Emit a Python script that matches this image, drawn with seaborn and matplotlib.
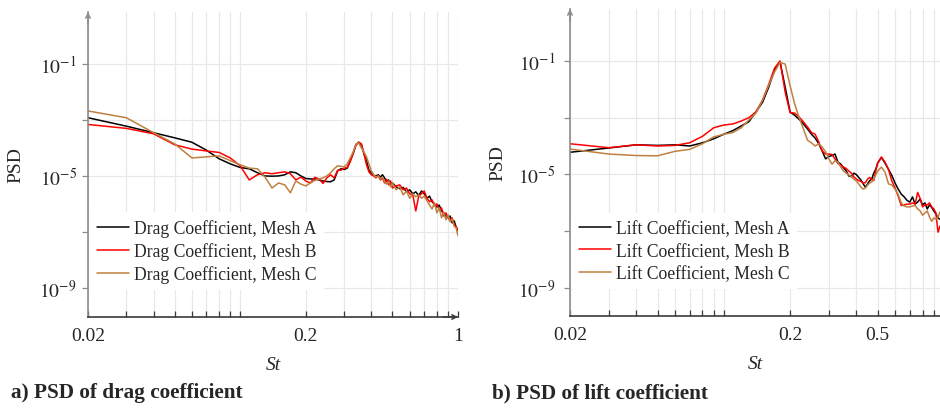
import matplotlib
matplotlib.use("Agg")
import matplotlib.pyplot as plt
import numpy as np
import pandas as pd
import seaborn as sns
from matplotlib.ticker import NullFormatter

# ---------------- data ----------------
st_drag = [0.02, 0.03, 0.04, 0.05, 0.06, 0.07, 0.08, 0.09, 0.10, 0.11,
           0.12, 0.13, 0.14, 0.15, 0.16, 0.17, 0.18, 0.19, 0.20, 0.21,
           0.22, 0.23, 0.24, 0.25, 0.26, 0.27, 0.28, 0.29, 0.30, 0.31,
           0.32, 0.33, 0.34, 0.35, 0.36, 0.37, 0.38, 0.39, 0.40, 0.41,
           0.42, 0.43, 0.44, 0.45, 0.46, 0.47, 0.48, 0.49, 0.50,
           0.52, 0.54, 0.56, 0.58, 0.60, 0.62, 0.64, 0.66, 0.68, 0.70,
           0.72, 0.74, 0.76, 0.78, 0.80, 0.82, 0.84, 0.86, 0.88, 0.90,
           0.92, 0.94, 0.96, 0.98, 1.00]

drag_mesh_a = [1.2e-3, 6.0e-4, 3.5e-4, 2.3e-4, 1.6e-4, 8.3e-5, 4.1e-5, 2.7e-5, 2.0e-5, 1.8e-5,
               1.3e-5, 1.0e-5, 9.8e-6, 1.0e-5, 1.1e-5, 1.4e-5, 1.3e-5, 1.0e-5, 8.1e-6, 7.8e-6,
               7.8e-6, 7.2e-6, 6.6e-6, 6.3e-6, 6.2e-6, 7.2e-6, 1.5e-5, 1.8e-5, 1.7e-5, 1.9e-5,
               3.5e-5, 6.2e-5, 1.3e-4, 1.6e-4, 1.3e-4, 6.2e-5, 3.5e-5, 1.6e-5, 1.3e-5, 1.05e-5,
               1.0e-5, 1.1e-5, 9.1e-6, 1.1e-5, 8.5e-6, 6.2e-6, 7.2e-6, 4.8e-6, 5.6e-6,
               4.1e-6, 3.5e-6, 3.9e-6, 2.7e-6, 3.2e-6, 2.3e-6, 2.7e-6, 2.0e-6, 2.9e-6, 2.3e-6,
               1.6e-6, 1.9e-6, 1.2e-6, 1.0e-6, 7.8e-7, 9.1e-7, 5.6e-7, 4.8e-7, 3.7e-7, 3.2e-7,
               3.7e-7, 2.1e-7, 2.5e-7, 1.5e-7, 1.1e-7]

drag_mesh_b = [6.9e-4, 5.0e-4, 3.2e-4, 1.3e-4, 9.1e-5, 7.8e-5, 6.9e-5, 4.4e-5, 2.3e-5, 7.2e-6,
               1.1e-5, 1.3e-5, 1.2e-5, 1.3e-5, 1.4e-5, 1.2e-5, 7.2e-6, 9.1e-6, 6.6e-6, 5.6e-6,
               8.9e-6, 7.8e-6, 5.4e-6, 8.5e-6, 1.1e-5, 8.5e-6, 1.6e-5, 1.6e-5, 1.9e-5, 2.0e-5,
               3.2e-5, 6.6e-5, 1.3e-4, 1.6e-4, 1.4e-4, 6.2e-5, 2.5e-5, 1.4e-5, 1.1e-5, 1.0e-5,
               8.5e-6, 1.05e-5, 7.2e-6, 8.5e-6, 5.6e-6, 7.6e-6, 4.8e-6, 6.6e-6, 3.7e-6,
               4.4e-6, 4.8e-6, 3.2e-6, 3.7e-6, 2.3e-6, 2.1e-6, 5.6e-7, 1.9e-6, 2.3e-6, 2.9e-6,
               1.6e-6, 1.2e-6, 1.4e-6, 8.5e-7, 1.0e-6, 6.2e-7, 7.2e-7, 3.7e-7, 4.8e-7, 3.2e-7,
               2.5e-7, 3.2e-7, 1.8e-7, 1.5e-7, 1.2e-7]

drag_mesh_c = [2.1e-3, 1.2e-3, 3.5e-4, 1.4e-4, 4.4e-5, 4.8e-5, 5.2e-5, 3.5e-5, 2.5e-5, 1.9e-5,
               1.8e-5, 9.1e-6, 3.7e-6, 5.6e-6, 4.8e-6, 2.5e-6, 6.6e-6, 5.1e-6, 4.4e-6, 5.6e-6,
               6.9e-6, 7.8e-6, 8.5e-6, 1.0e-5, 1.3e-5, 1.8e-5, 2.3e-5, 2.2e-5, 2.1e-5, 2.7e-5,
               4.4e-5, 7.2e-5, 1.4e-4, 1.5e-4, 1.0e-4, 7.2e-5, 4.8e-5, 2.7e-5, 1.5e-5, 1.1e-5,
               9.1e-6, 1.0e-5, 7.8e-6, 9.1e-6, 6.2e-6, 5.1e-6, 6.6e-6, 4.1e-6, 5.6e-6,
               3.2e-6, 4.1e-6, 2.1e-6, 2.9e-6, 1.6e-6, 2.3e-6, 1.8e-6, 2.1e-6, 1.6e-6, 1.9e-6,
               1.3e-6, 9.1e-7, 6.6e-7, 1.1e-6, 4.8e-7, 7.2e-7, 3.2e-7, 5.1e-7, 2.7e-7, 4.1e-7,
               2.3e-7, 2.9e-7, 1.6e-7, 1.4e-7, 7.2e-8]

st_lift = [0.02, 0.03, 0.04, 0.05, 0.06, 0.07, 0.08, 0.09, 0.10, 0.11,
           0.12, 0.13, 0.14, 0.15, 0.16, 0.17, 0.18, 0.19, 0.20, 0.21,
           0.22, 0.23, 0.24, 0.25, 0.26, 0.27, 0.28, 0.29, 0.30, 0.31,
           0.32, 0.33, 0.34, 0.35, 0.36, 0.37, 0.38, 0.39, 0.40, 0.41,
           0.42, 0.43, 0.44, 0.45, 0.46, 0.47, 0.48, 0.49, 0.50,
           0.52, 0.54, 0.56, 0.58, 0.60, 0.62, 0.64, 0.66, 0.68, 0.70,
           0.72, 0.74, 0.76, 0.78, 0.80, 0.82, 0.84, 0.86, 0.88, 0.90,
           0.92, 0.94, 0.96]

lift_mesh_a = [6.0e-5, 8.5e-5, 1.1e-4, 1.05e-4, 1.1e-4, 1.0e-4, 1.3e-4, 1.8e-4, 2.6e-4, 3.5e-4,
               5.1e-4, 7.2e-4, 1.6e-3, 3.5e-3, 1.2e-2, 4.8e-2, 9.5e-2, 1.2e-2, 1.6e-3, 1.2e-3,
               8.7e-4, 6.0e-4, 4.0e-4, 2.6e-4, 1.9e-4, 1.2e-4, 6.6e-5, 3.5e-5, 4.3e-5, 4.6e-5,
               5.2e-5, 2.7e-5, 2.3e-5, 1.7e-5, 1.3e-5, 8.7e-6, 8.3e-6, 1.1e-5, 9.8e-6, 7.8e-6,
               6.3e-6, 4.6e-6, 3.5e-6, 4.6e-6, 6.0e-6, 6.8e-6, 1.1e-5, 1.5e-5, 2.5e-5,
               3.9e-5, 2.5e-5, 1.5e-5, 9.1e-6, 4.9e-6, 3.0e-6, 2.0e-6, 1.6e-6, 1.2e-6, 1.05e-6,
               1.6e-6, 8.9e-7, 1.05e-6, 1.35e-6, 8.3e-7, 9.8e-7, 6.0e-7, 8.3e-7, 6.8e-7, 5.1e-7,
               4.0e-7, 2.9e-7, 2.6e-7]

lift_mesh_b = [1.2e-4, 8.7e-5, 1.1e-4, 1.0e-4, 1.05e-4, 1.3e-4, 2.2e-4, 4.4e-4, 5.5e-4, 6.0e-4,
               7.6e-4, 1.0e-3, 1.6e-3, 4.2e-3, 1.5e-2, 5.6e-2, 1.0e-1, 8.0e-3, 1.5e-3, 1.45e-3,
               1.05e-3, 7.1e-4, 4.7e-4, 3.0e-4, 2.6e-4, 1.4e-4, 6.6e-5, 5.2e-5, 5.2e-5, 5.0e-5,
               3.5e-5, 2.4e-5, 2.1e-5, 1.8e-5, 1.6e-5, 1.3e-5, 1.1e-5, 8.1e-6, 6.8e-6, 6.0e-6,
               5.6e-6, 4.9e-6, 5.1e-6, 6.8e-6, 7.8e-6, 6.6e-6, 6.0e-6, 1.3e-5, 2.5e-5,
               4.1e-5, 2.7e-5, 1.5e-5, 5.8e-6, 3.3e-6, 1.7e-6, 7.9e-7, 8.3e-7, 8.9e-7, 8.9e-7,
               9.8e-7, 8.9e-7, 2.3e-6, 1.4e-6, 7.1e-7, 8.3e-7, 8.3e-7, 9.8e-7, 7.1e-7, 6.0e-7,
               4.3e-7, 9.1e-8, 1.5e-7]

lift_mesh_c = [7.8e-5, 5.2e-5, 4.6e-5, 4.5e-5, 6.5e-5, 7.6e-5, 1.2e-4, 2.1e-4, 2.6e-4, 3.0e-4,
               4.4e-4, 8.3e-4, 1.45e-3, 4.2e-3, 1.4e-2, 4.1e-2, 8.9e-2, 7.8e-2, 1.35e-2, 3.0e-3,
               1.0e-3, 4.0e-4, 1.6e-4, 1.3e-4, 1.0e-4, 1.2e-4, 9.1e-5, 6.2e-5, 3.5e-5, 2.3e-5,
               3.0e-5, 2.7e-5, 1.8e-5, 1.3e-5, 1.1e-5, 9.5e-6, 8.1e-6, 6.8e-6, 5.8e-6, 4.6e-6,
               3.5e-6, 3.0e-6, 3.3e-6, 4.2e-6, 4.9e-6, 5.4e-6, 6.8e-6, 9.5e-6, 1.3e-5,
               1.8e-5, 1.2e-5, 4.6e-6, 4.2e-6, 3.0e-6, 1.9e-6, 9.8e-7, 7.6e-7, 7.1e-7, 7.1e-7,
               7.6e-7, 7.9e-7, 6.0e-7, 5.1e-7, 3.6e-7, 4.3e-7, 5.1e-7, 3.1e-7, 2.2e-7, 2.9e-7,
               2.6e-7, 3.1e-7, 4.7e-7]

drag_labels = ["Drag Coefficient, Mesh A", "Drag Coefficient, Mesh B", "Drag Coefficient, Mesh C"]
lift_labels = ["Lift Coefficient, Mesh A", "Lift Coefficient, Mesh B", "Lift Coefficient, Mesh C"]
series_colors = ["#000000", "#ff0000", "#bf8040"]

x_ticks_drag = [0.02, 0.2, 1.0]
x_ticklabels_drag = ["0.02", "0.2", "1"]
x_ticks_lift = [0.02, 0.2, 0.5]
x_ticklabels_lift = ["0.02", "0.2", "0.5"]
y_ticks = [1e-9, 1e-5, 1e-1]
y_ticklabels = [r"$10^{-9}$", r"$10^{-5}$", r"$10^{-1}$"]
y_minor = [1e-7, 1e-3]
x_grid_all = [0.03, 0.04, 0.05, 0.06, 0.07, 0.08, 0.09, 0.1,
              0.3, 0.4, 0.5, 0.6, 0.7, 0.8, 0.9]

# ---------------- style ----------------
sns.set_theme(style="white")
plt.rcParams["font.family"] = ["Liberation Serif", "DejaVu Serif"]
plt.rcParams["mathtext.fontset"] = "stix"

fig = plt.figure(figsize=(9.4, 4.1), dpi=100)
ax1 = fig.add_axes([88 / 940, 1 - 318 / 410, 370 / 940, 305 / 410])
ax2 = fig.add_axes([570 / 940, 1 - 317 / 410, 370 / 940, 307 / 410])


def build_df(st, series, labels):
    frames = []
    for vals, lab in zip(series, labels):
        frames.append(pd.DataFrame({"St": st, "PSD": vals, "Series": lab}))
    return pd.concat(frames, ignore_index=True)


drag_df = build_df(st_drag, [drag_mesh_a, drag_mesh_b, drag_mesh_c], drag_labels)
lift_df = build_df(st_lift, [lift_mesh_a, lift_mesh_b, lift_mesh_c], lift_labels)

FS_TICK = 14
FS_LAB = 14
FS_LEG = 12.7


def draw(ax, df, labels, xmax, ylim, xt, xtl, ypad, xarrow):
    sns.lineplot(data=df, x="St", y="PSD", hue="Series", hue_order=labels,
                 palette=dict(zip(labels, series_colors)), ax=ax, lw=1.1,
                 estimator=None, sort=False, legend=False)
    ax.set_xscale("log")
    ax.set_yscale("log")
    ax.set_xlim(0.02, xmax)
    ax.set_ylim(*ylim)
    ax.set_xticks(xt, labels=xtl)
    ax.set_xticks([v for v in x_grid_all if v not in xt and v < xmax], minor=True)
    ax.xaxis.set_minor_formatter(NullFormatter())
    ax.set_yticks(y_ticks, labels=y_ticklabels)
    ax.set_yticks(y_minor, minor=True)
    ax.yaxis.set_minor_formatter(NullFormatter())
    ax.grid(which="both", color="#e8e8e8", lw=0.9)
    ax.set_axisbelow(True)
    for s in ["top", "right"]:
        ax.spines[s].set_visible(False)
    ax.spines["left"].set_color("#8c8c8c")
    ax.spines["left"].set_linewidth(1.2)
    ax.spines["bottom"].set_color("#3a3a3a")
    ax.spines["bottom"].set_linewidth(1.2)
    ax.tick_params(axis="x", which="both", direction="in", length=4, width=0.9,
                   color="#3a3a3a", labelsize=FS_TICK, pad=7, bottom=True)
    ax.tick_params(axis="y", which="both", direction="out", length=4, width=0.9,
                   color="#8c8c8c", labelsize=FS_TICK, pad=ypad, left=True)
    ax.set_xlabel("St", fontstyle="italic", fontsize=FS_LAB)
    ax.xaxis.set_label_coords(0.5, -0.128)
    ax.set_ylabel("PSD", fontsize=FS_LAB)
    ax.yaxis.set_label_coords(-0.172, 0.5)
    handles = ax.lines[:3]
    leg = ax.legend(handles, labels, loc="lower left", bbox_to_anchor=(0.004, 0.088),
                    borderaxespad=0, frameon=True, fancybox=False, framealpha=1,
                    edgecolor="white", fontsize=FS_LEG, handlelength=1.85,
                    handletextpad=0.3, labelspacing=0.3, borderpad=0.4)
    leg.get_frame().set_linewidth(0)
    ax.annotate("", xy=(0, 1.0), xytext=(0, 0.96), xycoords="axes fraction",
                arrowprops=dict(arrowstyle="->", color="#8c8c8c", lw=1.1,
                                mutation_scale=8, shrinkA=0, shrinkB=0))
    if xarrow:
        ax.annotate("", xy=(1.0, 0), xytext=(0.96, 0), xycoords="axes fraction",
                    arrowprops=dict(arrowstyle="->", color="#3a3a3a", lw=1.1,
                                    mutation_scale=8, shrinkA=0, shrinkB=0))


draw(ax1, drag_df, drag_labels, 1.0, (10 ** -10.04, 10 ** 0.857),
     x_ticks_drag, x_ticklabels_drag, 4, True)
draw(ax2, lift_df, lift_labels, 0.96, (1e-10, 10 ** 0.835),
     x_ticks_lift, x_ticklabels_lift, 6.5, False)

fig.text(11 / 940, 1 - 398 / 410, "a) PSD of drag coefficient", fontsize=15.3,
         fontweight="bold", va="baseline", ha="left")
fig.text(492 / 940, 1 - 398 / 410, "b) PSD of lift coefficient", fontsize=15.3,
         fontweight="bold", va="baseline", ha="left")

fig.savefig("out.png", dpi=100)
